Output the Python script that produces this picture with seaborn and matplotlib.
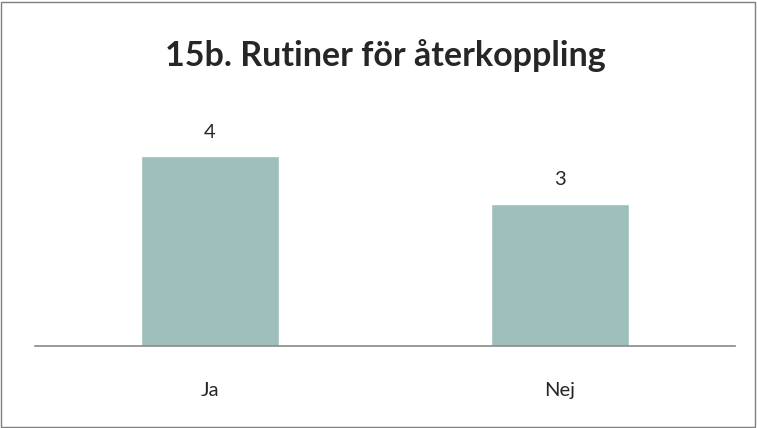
import pandas as pd
import matplotlib.pyplot as plt
import seaborn as sns
from matplotlib.patches import Rectangle

# Data
categories = ["Ja", "Nej"]
values = [4, 3]

df = pd.DataFrame({"svar": categories, "antal": values})

sns.set_style("white")
plt.rcParams['font.family'] = ['Lato', 'DejaVu Sans']

fig = plt.figure(figsize=(7.57, 4.28), dpi=100)
ax = fig.add_axes([35 / 757, 82 / 428, 700 / 757, 237.5 / 428])

sns.barplot(data=df, x="svar", y="antal", color="#9DBEBB", saturation=1,
            width=0.395, ax=ax)

ax.set_ylim(0, 5)
ax.set_xlim(-0.5, 1.5)
ax.set_yticks([])
ax.set_xlabel("")
ax.set_ylabel("")
for side in ["left", "right", "top"]:
    ax.spines[side].set_visible(False)
ax.spines["bottom"].set_color("#898989")
ax.spines["bottom"].set_linewidth(1.2)
ax.tick_params(axis="x", length=0, pad=26, labelsize=14.5)

# Value labels
for i, v in enumerate(values):
    ax.annotate(str(v), (i, v), xytext=(0, 11), textcoords="offset points",
                ha="center", va="bottom", fontsize=14.5)

fig.text(385 / 757, 1 - 56 / 428, "15b. Rutiner för återkoppling",
         ha="center", va="center", fontsize=24.5, fontweight="bold")

# Border around chart
fig.patches.append(Rectangle((1 / 757, 1 / 428), 754 / 757, 425 / 428,
                             transform=fig.transFigure, fill=False,
                             edgecolor="#7F7F7F", linewidth=1))

plt.savefig("out.png", dpi=100)
